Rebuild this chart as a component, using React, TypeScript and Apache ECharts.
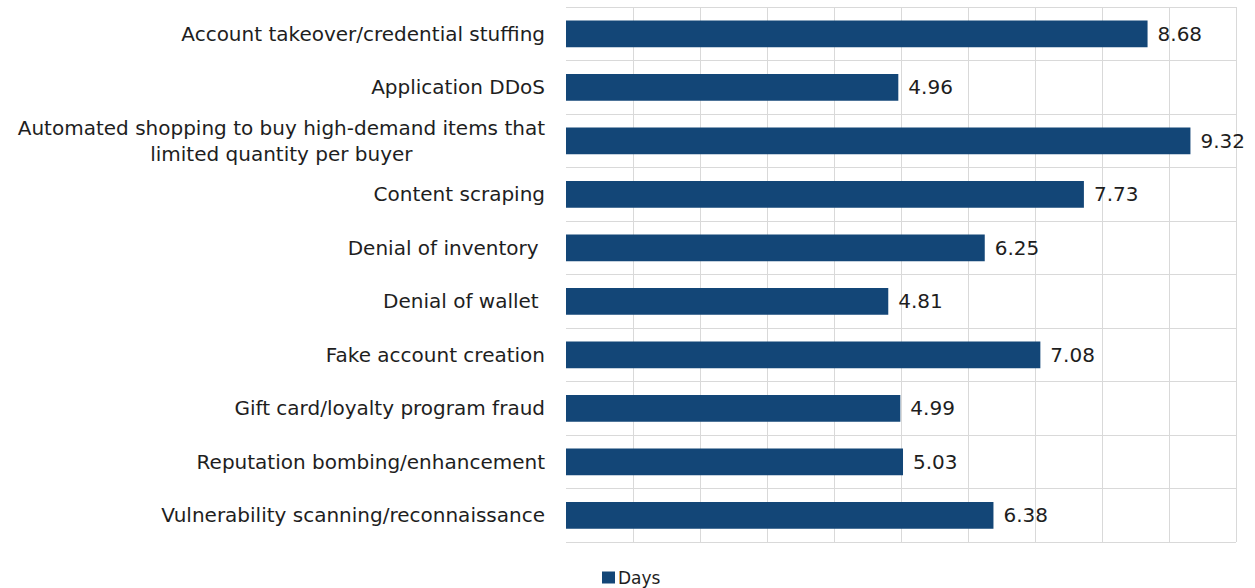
import React, { useEffect, useRef } from "react";
import * as echarts from "echarts";

const categories = [
  "Account takeover/credential stuffing",
  "Application DDoS",
  "Automated shopping to buy high-demand items that\nlimited quantity per buyer",
  "Content scraping",
  "Denial of inventory ",
  "Denial of wallet ",
  "Fake account creation",
  "Gift card/loyalty program fraud",
  "Reputation bombing/enhancement",
  "Vulnerability scanning/reconnaissance",
];
const days = [8.68, 4.96, 9.32, 7.73, 6.25, 4.81, 7.08, 4.99, 5.03, 6.38];
const seriesName = "Days";

const FONT = "DejaVu Sans";
const TEXT = "#1e1e1e";
const BAR = "#134677";

export default function App() {
  const ref = useRef<HTMLDivElement>(null);
  useEffect(() => {
    if (!ref.current) return;
    const chart = echarts.init(ref.current, undefined, { renderer: "svg" });
    chart.setOption({
      animation: false,
      textStyle: { fontFamily: FONT },
      grid: { left: 566, right: 19, top: 7, bottom: 46, containLabel: false },
      legend: {
        top: 569,
        left: 602,
        padding: 0,
        data: [seriesName],
        icon: "rect",
        itemWidth: 13,
        itemHeight: 12,
        itemGap: 4,
        textStyle: { fontFamily: FONT, fontSize: 17, color: TEXT, padding: [0, 0, 0, -2] },
      },
      xAxis: {
        type: "value",
        min: 0,
        max: 10,
        interval: 1,
        axisLabel: { show: false },
        axisLine: { show: false },
        axisTick: { show: false },
        splitLine: { show: true, showMinLine: false, lineStyle: { color: "#d9d9d9", width: 1 } },
      },
      yAxis: {
        type: "category",
        inverse: true,
        data: categories,
        axisLine: { show: false },
        axisTick: { show: false },
        splitLine: { show: true, lineStyle: { color: "#d9d9d9", width: 1 } },
        axisLabel: {
          margin: 21,
          fontFamily: FONT,
          fontSize: 20,
          color: TEXT,
          formatter: (v: string) =>
            v
              .split("\n")
              .map((s) => `{c|${s}}`)
              .join("\n"),
          rich: {
            c: { align: "center", fontFamily: FONT, fontSize: 20, color: TEXT, lineHeight: 26 },
          },
        },
      },
      series: [
        {
          name: seriesName,
          type: "bar",
          data: days,
          barCategoryGap: "50%",
          itemStyle: { color: BAR },
          label: {
            show: true,
            position: "right",
            distance: 10,
            fontFamily: FONT,
            fontSize: 20,
            color: TEXT,
            formatter: (p: any) => p.value.toFixed(2),
          },
        },
      ],
    });
    return () => chart.dispose();
  }, []);
  return (
    <div
      ref={ref}
      style={{ position: "fixed", left: 0, top: 0, width: 1255, height: 588, background: "#fff" }}
    />
  );
}
